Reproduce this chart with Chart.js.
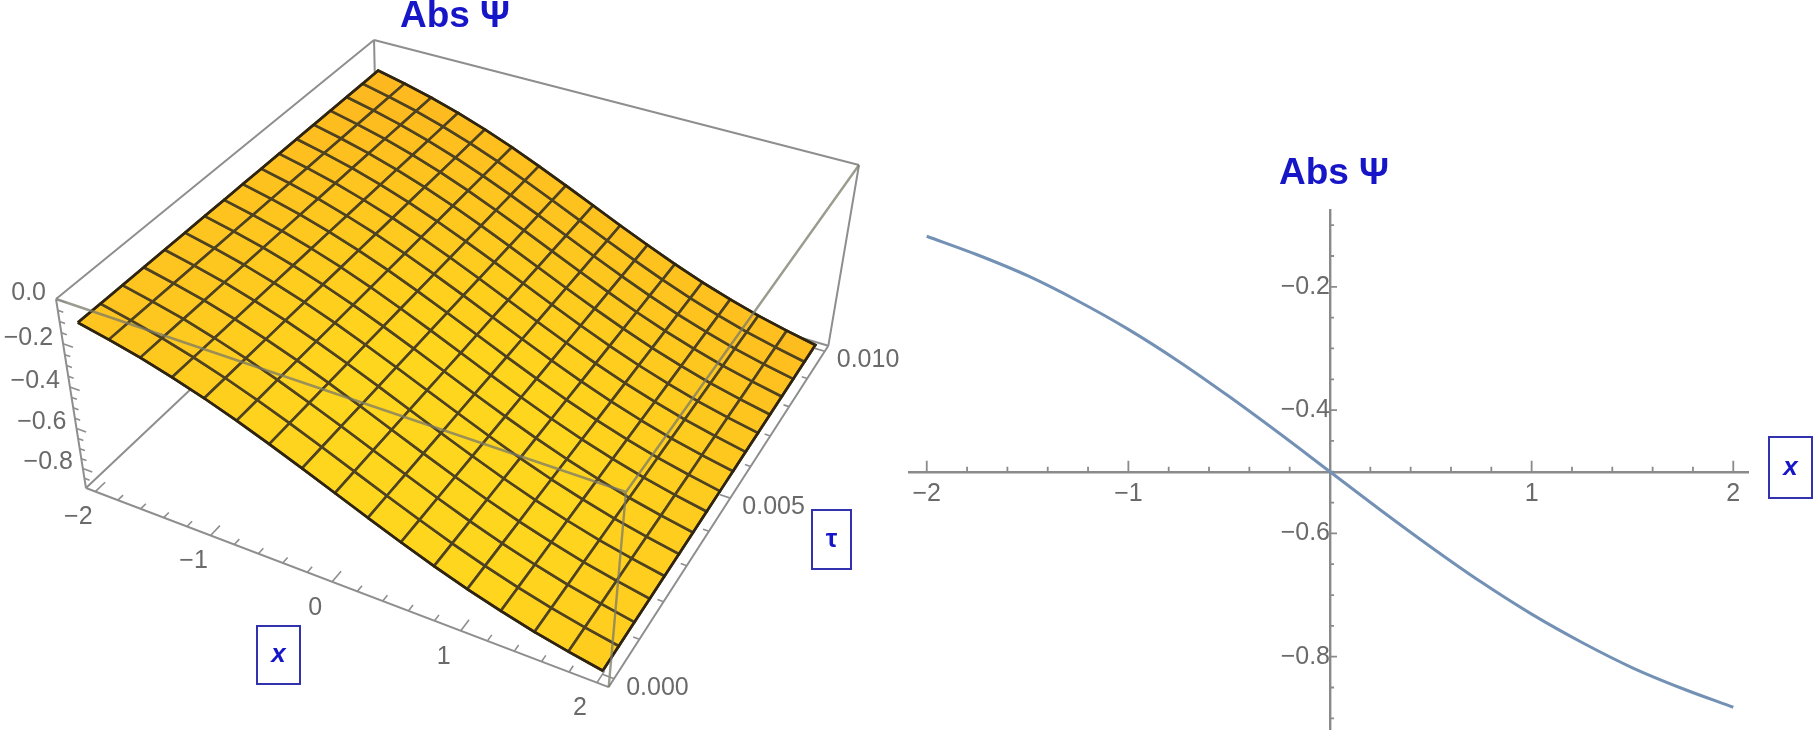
<!DOCTYPE html>
<html>
<head>
<meta charset="utf-8">
<script src="https://cdn.jsdelivr.net/npm/chart.js@4"></script>
<style>
  html, body { margin: 0; background: #fff; overflow: hidden; }
  .panel { position: absolute; }
  #surfacePanel { left: 0; top: 0; width: 900px; height: 734px; }
  #curvePanel { left: 900px; top: 130px; width: 917px; height: 604px; }
  canvas { filter: blur(0.5px); }
</style>
</head>
<body>
<div class="panel" id="surfacePanel"><canvas id="surfaceChart"></canvas></div>
<div class="panel" id="curvePanel"><canvas id="curveChart"></canvas></div>
<script>
// -- data -----------------------------------------------------
const xValues = [-2, -1.75, -1.5, -1.25, -1, -0.75, -0.5, -0.25, 0, 0.25, 0.5, 0.75, 1, 1.25, 1.5, 1.75, 2];
const psiValues = [-0.118, -0.148, -0.182, -0.223, -0.269, -0.321, -0.378, -0.438, -0.5, -0.562, -0.622, -0.679, -0.731, -0.777, -0.818, -0.852, -0.882];
const tauValues = [0, 0.000625, 0.00125, 0.001875, 0.0025, 0.003125, 0.00375, 0.004375, 0.005, 0.005625, 0.00625, 0.006875, 0.0075, 0.008125, 0.00875, 0.009375, 0.01];

// ticks, right panel
const xTicks = [-2, -1.8, -1.6, -1.4, -1.2, -1, -0.8, -0.6, -0.4, -0.2, 0, 0.2, 0.4, 0.6, 0.8, 1, 1.2, 1.4, 1.6, 1.8, 2];
const xTickLabels = [-2, -1, 1, 2];
const xMajorTicks = [-2, -1, 0, 1, 2];
const yTicks = [-0.9, -0.85, -0.8, -0.75, -0.7, -0.65, -0.6, -0.55, -0.5, -0.45, -0.4, -0.35, -0.3, -0.25, -0.2, -0.15, -0.1];
const yTickLabels = [-0.2, -0.4, -0.6, -0.8];

// ticks, 3D box
const boxXLabels = [-2, -1, 0, 1, 2];
const tauTicks = [0, 0.001, 0.002, 0.003, 0.004, 0.005, 0.006, 0.007, 0.008, 0.009, 0.01];
const tauLabels = ['0.000', '0.005', '0.010'];
const zTicks = [0, -0.05, -0.1, -0.15, -0.2, -0.25, -0.3, -0.35, -0.4, -0.45, -0.5, -0.55, -0.6, -0.65, -0.7, -0.75, -0.8, -0.85];
const zLabels = [0, -0.2, -0.4, -0.6, -0.8];

const titleText = 'Abs Ψ';
const BLUE = '#1616c8';
const TICK_COLOR = '#6a6a6a';
const TICK_FONT = '25px "Liberation Sans"';

const minus = v => String(v).replace('-', '−');

// -- view of the 3D box, fitted on its corners ----------------
const PAD = 0.02;      // plot range padding of the box
const Z_BOTTOM = -0.9;

function project(s, t, h) {
  const w = 1 - 0.1191 * s + 0.2325 * t + 0.0864 * h;
  return {
    x: (495.4 * s + 405 * t + 56 + 37.4 * h) / w,
    y: (134.4 * s - 249.7 * t + 299 + 231.2 * h) / w
  };
}
const sOf = x => PAD + (x + 2) / 4 * (1 - 2 * PAD);
const tOf = tau => PAD + tau / 0.01 * (1 - 2 * PAD);
const hOf = z => z / Z_BOTTOM;
const gap = { x: NaN, y: NaN };

// box edges, split by what sits behind / in front of the surface
function boxEdges(list) {
  const pts = [];
  list.forEach(([a, b]) => pts.push(project(...a), project(...b), gap));
  return pts;
}
const backEdges = boxEdges([
  [[0, 0, 0], [0, 1, 0]], [[0, 1, 0], [1, 1, 0]],
  [[0, 0, 0], [0, 0, 1]], [[0, 1, 0], [0, 1, 1]],
  [[1, 1, 0], [1, 1, 1]], [[0, 0, 1], [1, 0, 1]],
  [[1, 0, 1], [1, 1, 1]], [[0, 0, 1], [0, 1, 1]], [[0, 1, 1], [1, 1, 1]]
]);
const frontEdges = boxEdges([
  [[0, 0, 0], [1, 0, 0]], [[1, 0, 0], [1, 1, 0]], [[1, 0, 0], [1, 0, 1]]
]);

function boxTicks() {
  const pts = [];
  xTicks.forEach(v => {
    const len = xMajorTicks.includes(v) ? 0.028 : 0.015;
    pts.push(project(sOf(v), 0, 1), project(sOf(v), len, 1), gap);
  });
  tauTicks.forEach((v, i) => {
    const len = i % 5 === 0 ? 0.02 : 0.011;
    pts.push(project(1, tOf(v), 1), project(1 - len, tOf(v), 1), gap);
  });
  zTicks.forEach((v, i) => {
    const len = i % 4 === 0 ? 0.02 : 0.011;
    pts.push(project(0, 0, hOf(v)), project(len, 0, hOf(v)), gap);
  });
  return pts;
}

function mix(a, b, k) {
  k = Math.min(1, Math.max(0, k));
  return `rgb(${a.map((c, i) => Math.round(c + (b[i] - c) * k)).join(',')})`;
}
const cellColor = (s, t) =>
  mix([255, 214, 30], [253, 176, 32], Math.hypot((s - 0.6) / 0.8, (t - 0.2) / 1) - 0.25);

function surfaceDatasets() {
  const sets = [];
  for (let i = 0; i < xValues.length - 1; i++) {
    for (let j = 0; j < tauValues.length - 1; j++) {
      const corner = (a, b) => project(sOf(xValues[a]), tOf(tauValues[b]), hOf(psiValues[a]));
      sets.push({
        data: [corner(i, j), corner(i + 1, j), corner(i + 1, j + 1), corner(i, j + 1), corner(i, j)],
        showLine: true, pointRadius: 0, fill: 'shape',
        backgroundColor: cellColor((i + 0.5) / 16, (j + 0.5) / 16),
        borderColor: '#4f4220', borderWidth: 2.6, clip: false
      });
    }
  }
  // dark outline of the sheet
  const rim = [];
  xValues.forEach((x, i) => rim.push(project(sOf(x), tOf(0), hOf(psiValues[i]))));
  tauValues.forEach(tau => rim.push(project(sOf(2), tOf(tau), hOf(psiValues[16]))));
  [...xValues].reverse().forEach((x, i) => rim.push(project(sOf(x), tOf(0.01), hOf(psiValues[16 - i]))));
  [...tauValues].reverse().forEach(tau => rim.push(project(sOf(-2), tOf(tau), hOf(psiValues[0]))));
  sets.push({ data: rim, showLine: true, pointRadius: 0, borderColor: '#2e2410', borderWidth: 2.6, clip: false });
  return sets;
}

const lineSet = (data, color, width) => ({
  data, showLine: true, pointRadius: 0, borderColor: color, borderWidth: width, clip: false
});

// later entries are painted on top
const surfaceSets = [
  lineSet(backEdges, '#8e8e8e', 2),
  ...surfaceDatasets(),
  lineSet(frontEdges, 'rgba(122,122,104,0.75)', 2.4),
  lineSet(boxTicks(), '#8e8e8e', 1.6)
];
surfaceSets.forEach((d, i) => { d.order = surfaceSets.length - i; });

// -- text drawn on the charts ---------------------------------
function boxedLabel(ctx, text, font, left, top, w, h) {
  ctx.strokeStyle = '#3232ae';
  ctx.lineWidth = 2;
  ctx.strokeRect(left, top, w, h);
  ctx.fillStyle = BLUE;
  ctx.font = font;
  ctx.textAlign = 'center';
  ctx.textBaseline = 'middle';
  ctx.fillText(text, left + w / 2, top + h / 2);
}
function title(ctx, cx, cy) {
  ctx.fillStyle = BLUE;
  ctx.font = 'bold 37px "Liberation Sans"';
  ctx.textAlign = 'center';
  ctx.textBaseline = 'middle';
  ctx.fillText(titleText, cx, cy);
}

const surfaceText = {
  id: 'surfaceText',
  afterDraw(chart) {
    const { ctx } = chart;
    ctx.save();
    title(ctx, 455, 17);
    ctx.fillStyle = TICK_COLOR;
    ctx.font = TICK_FONT;
    ctx.textBaseline = 'middle';
    ctx.textAlign = 'center';
    boxXLabels.forEach(v => {
      const p = project(sOf(v), 0, 1);
      ctx.fillText(minus(v), p.x - 17, p.y + 26);
    });
    ctx.textAlign = 'left';
    tauLabels.forEach(v => {
      const p = project(1, tOf(Number(v)), 1);
      ctx.fillText(v, p.x + 12, p.y + 9);
    });
    ctx.textAlign = 'right';
    zLabels.forEach(v => {
      const p = project(0, 0, hOf(v));
      ctx.fillText(minus(v.toFixed(1)), p.x - 10, p.y - 6);
    });
    boxedLabel(ctx, 'x', 'italic bold 26px "Liberation Sans"', 257, 626, 43, 58);
    boxedLabel(ctx, 'τ', 'bold 26px "Liberation Sans"', 812, 510, 39, 59);
    ctx.restore();
  }
};

new Chart(document.getElementById('surfaceChart'), {
  type: 'scatter',
  data: { datasets: surfaceSets },
  options: {
    responsive: true,
    maintainAspectRatio: false,
    animation: false,
    layout: { padding: 0 },
    plugins: { legend: { display: false }, tooltip: { enabled: false } },
    scales: {
      x: { display: false, min: 0, max: 900 },
      y: { display: false, min: 0, max: 734, reverse: true }
    }
  },
  plugins: [surfaceText]
});

// -- right panel ----------------------------------------------
const axisMarks = {
  id: 'axisMarks',
  beforeDatasetsDraw(chart) {
    const { ctx, scales: { x, y } } = chart;
    const ax = y.getPixelForValue(-0.5), ay = x.getPixelForValue(0);
    ctx.save();
    ctx.strokeStyle = '#8a8a8a';
    ctx.lineWidth = 1.8;
    ctx.beginPath();
    xTicks.forEach(v => {
      const px = x.getPixelForValue(v);
      ctx.moveTo(px, ax);
      ctx.lineTo(px, ax - (xMajorTicks.includes(v) ? 11 : 5));
    });
    yTicks.forEach(v => {
      const py = y.getPixelForValue(v);
      ctx.moveTo(ay, py);
      ctx.lineTo(ay + (yTickLabels.includes(v) ? 7 : 4), py);
    });
    ctx.stroke();
    ctx.restore();
  },
  afterDraw(chart) {
    const { ctx } = chart;
    ctx.save();
    title(ctx, 434, 44);
    boxedLabel(ctx, 'x', 'italic bold 26px "Liberation Sans"', 869, 307, 43, 61);
    ctx.restore();
  }
};

new Chart(document.getElementById('curveChart'), {
  type: 'scatter',
  data: {
    datasets: [{
      data: xValues.map((x, i) => ({ x, y: psiValues[i] })),
      showLine: true,
      pointRadius: 0,
      cubicInterpolationMode: 'monotone',
      borderColor: '#7391b4',
      borderWidth: 3,
      clip: false
    }]
  },
  options: {
    responsive: true,
    maintainAspectRatio: false,
    animation: false,
    layout: { padding: { left: 9, right: 69, top: 80, bottom: 5 } },
    plugins: { legend: { display: false }, tooltip: { enabled: false } },
    scales: {
      x: {
        type: 'linear',
        position: { y: -0.5 },
        min: -2.088,
        max: 2.073,
        afterBuildTicks: s => { s.ticks = xTicks.map(value => ({ value })); },
        grid: { display: false, drawTicks: false },
        border: { color: '#8a8a8a', width: 2.4 },
        ticks: {
          autoSkip: false,
          maxRotation: 0,
          padding: 7,
          color: TICK_COLOR,
          font: { family: 'Liberation Sans', size: 25 },
          callback: v => xTickLabels.includes(v) ? minus(v) : ''
        }
      },
      y: {
        type: 'linear',
        position: { x: 0 },
        min: -0.9173,
        max: -0.0754,
        afterBuildTicks: s => { s.ticks = yTicks.map(value => ({ value })); },
        afterFit: s => { s.paddingBottom = 0; s.paddingTop = 0; },
        grid: { display: false, drawTicks: false },
        border: { color: '#8a8a8a', width: 2.4 },
        ticks: {
          autoSkip: false,
          padding: 8,
          color: TICK_COLOR,
          font: { family: 'Liberation Sans', size: 25 },
          callback: v => yTickLabels.includes(v) ? minus(v.toFixed(1)) : ''
        }
      }
    }
  },
  plugins: [axisMarks]
});
</script>
</body>
</html>
